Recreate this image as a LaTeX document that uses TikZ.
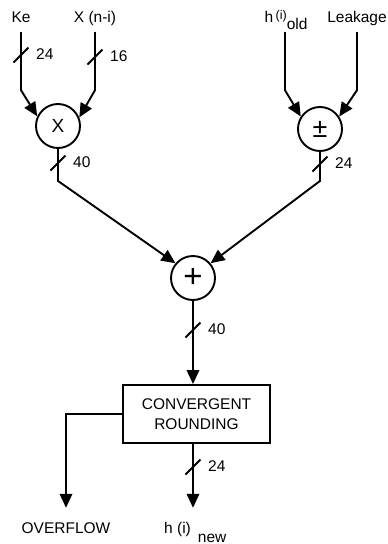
\documentclass[tikz,border=0pt]{standalone}
\usepackage{fontspec}
\setmainfont{Liberation Sans}
\usetikzlibrary{arrows.meta,positioning}
\tikzset{
  wire/.style={line width=1.9pt},
  sig/.style={wire,-{Triangle[length=14pt,width=12.5pt]}},
  op/.style={circle,draw,line width=1.9pt,minimum size=44pt,inner sep=0pt},
  inlabel/.style={anchor=base,text depth=4pt,inner ysep=6pt,inner xsep=1pt},
  outlabel/.style={anchor=base,text height=12pt,inner ysep=13pt,inner xsep=1pt},
  rounder/.style={draw,line width=1.9pt,minimum width=147pt,minimum height=58pt,
                  align=center},
  pics/buswidth/.style={code={
    \draw[wire] (-7.5,7.5) -- (7.5,-7.5);
    \node[anchor=west,inner sep=0pt] at (15,-1) {#1};}},
}

\begin{document}
\begin{tikzpicture}[x=1pt,y=-1pt,font=\fontsize{15.5}{20}\selectfont]
  \useasboundingbox (0,0) rectangle (388,544);
  % inputs
  \node[inlabel] (ke) at (21,22) {Ke};
  \node[inlabel] (xin) at (95,22) {X (n-i)};
  \node[inlabel] (hold) at (286,22)
    {h\,\raisebox{3pt}{\fontsize{12.5}{12.5}\selectfont(i)}\raisebox{-7pt}{old}};
  \node[inlabel] (leak) at (357,22) {Leakage};
  % operators
  \node[op] (mul) at (58,126) {\fontsize{19}{19}\selectfont X};
  \node[op] (pm) at (320,129) {\fontsize{27}{27}\selectfont ±};
  \node[op] (sum) at (193,278) {\fontsize{33}{33}\selectfont +};
  \node[rounder] (rnd) at (196.5,414) {CONVERGENT\\ROUNDING};
  % outputs
  \node[outlabel] (ovf) at (66,533) {OVERFLOW};
  \node[outlabel,anchor=base west] (hnew) at (163,533)
    {h (i)\hspace{7pt}\raisebox{-9pt}{new}};
  % connectors
  \draw[sig] (ke.south) -- ++(0,58) -- (mul.155);
  \draw[sig] (xin.south) -- ++(0,58) -- (mul.22);
  \draw[sig] (hold.south -| 285,0) -- ++(0,58) -- (pm.147);
  \draw[sig] (leak.south) -- ++(0,58) -- (pm.33);
  \draw[sig] (mul.south) -- ++(0,32) -- (sum.140);
  \draw[sig] (pm.south) -- ++(0,29) -- (sum.40);
  \draw[sig] (sum.south) -- (sum.south |- rnd.north);
  \draw[sig] (rnd.south -| sum) -- (hnew.north -| sum);
  \draw[sig] (rnd.west) -| (ovf.north);
  % bus widths
  \pic at (21,55) {buswidth=24};
  \pic at (95,57) {buswidth=16};
  \pic at (58,163) {buswidth=40};
  \pic at (320,164) {buswidth=24};
  \pic at (193,330) {buswidth=40};
  \pic at (193,467) {buswidth=24};
\end{tikzpicture}
\end{document}
